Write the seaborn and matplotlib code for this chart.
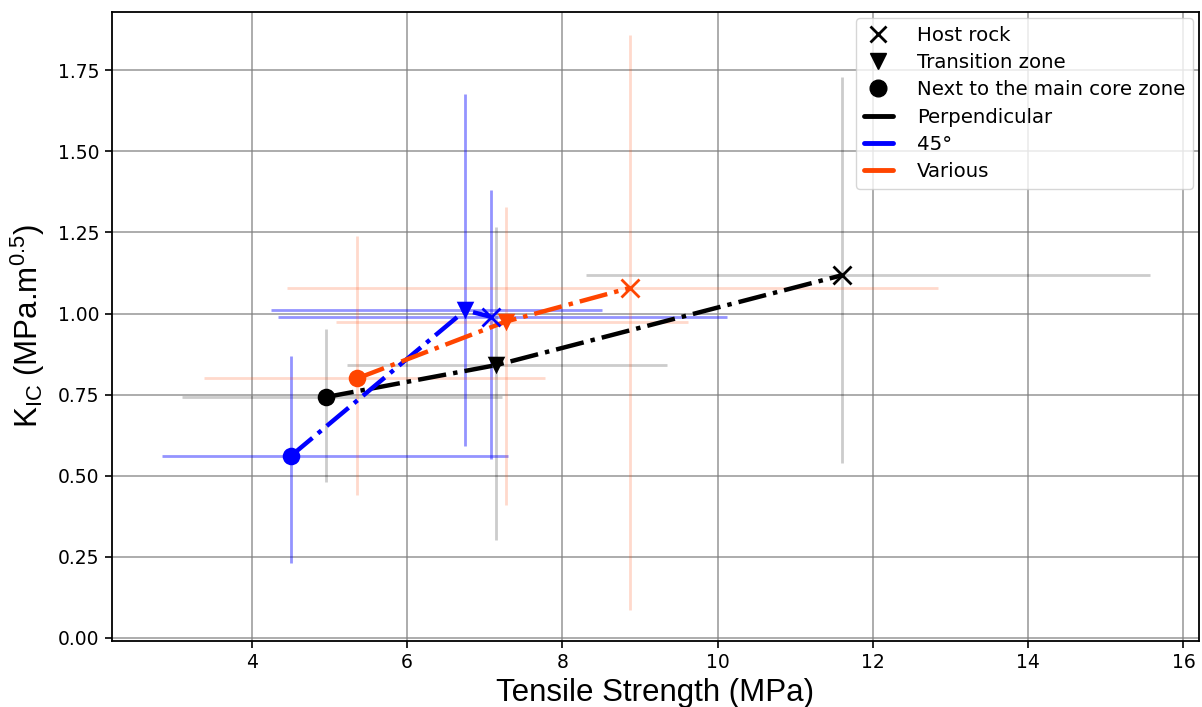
import numpy as np
import pandas as pd
import matplotlib
matplotlib.use("Agg")
import matplotlib.pyplot as plt
from matplotlib.lines import Line2D
import seaborn as sns

# Zones along each profile: next to the main core zone, transition zone, host rock
zones = ["Next to the main core zone", "Transition zone", "Host rock"]
zone_markers = ["o", "v", "x"]

# Perpendicular profile
perp_ts = [4.95, 7.15, 11.60]
perp_kic = [0.742, 0.841, 1.118]
perp_ts_min = [3.10, 5.22, 8.31]
perp_ts_max = [7.22, 9.35, 15.57]
perp_kic_min = [0.481, 0.302, 0.540]
perp_kic_max = [0.951, 1.267, 1.729]

# 45° profile
d45_ts = [4.50, 6.75, 7.08]
d45_kic = [0.560, 1.010, 0.990]
d45_ts_min = [2.84, 4.25, 4.34]
d45_ts_max = [7.30, 8.51, 10.12]
d45_kic_min = [0.231, 0.590, 0.551]
d45_kic_max = [0.869, 1.678, 1.380]

# Various orientations
var_ts = [5.36, 7.27, 8.87]
var_kic = [0.800, 0.975, 1.079]
var_ts_min = [3.39, 5.08, 4.45]
var_ts_max = [7.78, 9.62, 12.84]
var_kic_min = [0.440, 0.410, 0.086]
var_kic_max = [1.238, 1.329, 1.859]

profiles = ["Perpendicular", "45°", "Various"]
colors = ["black", "#0000ff", "#ff4500"]
err_alpha = [0.2, 0.42, 0.2]

series = [
    (perp_ts, perp_kic, perp_ts_min, perp_ts_max, perp_kic_min, perp_kic_max),
    (d45_ts, d45_kic, d45_ts_min, d45_ts_max, d45_kic_min, d45_kic_max),
    (var_ts, var_kic, var_ts_min, var_ts_max, var_kic_min, var_kic_max),
]

sns.set_theme(style="whitegrid")
plt.rcParams["font.family"] = ["DejaVu Sans"]
plt.rcParams["mathtext.default"] = "regular"
plt.rcParams["text.color"] = "black"
plt.rcParams["axes.labelcolor"] = "black"
plt.rcParams["xtick.color"] = "black"
plt.rcParams["ytick.color"] = "black"

fig = plt.figure(figsize=(12.02, 7.07), dpi=100)
ax = fig.add_axes([0.0932, 0.0934, 0.9043, 0.8896])
ax.set_facecolor("white")

for (ts, kic, tmin, tmax, kmin, kmax), name, col, ea in zip(series, profiles, colors, err_alpha):
    ts = np.asarray(ts)
    kic = np.asarray(kic)
    xerr = np.vstack([ts - np.asarray(tmin), np.asarray(tmax) - ts])
    yerr = np.vstack([kic - np.asarray(kmin), np.asarray(kmax) - kic])
    ax.errorbar(ts, kic, xerr=xerr, yerr=yerr, fmt="none", ecolor=col,
                alpha=ea, elinewidth=2, capsize=0, zorder=2)
    df = pd.DataFrame({"ts": ts, "kic": kic, "zone": zones})
    sns.lineplot(data=df, x="ts", y="kic", sort=False, color=col,
                 linestyle="-.", linewidth=3.2, ax=ax, zorder=3, legend=False)
    for (_, row), mk in zip(df.iterrows(), zone_markers):
        if mk == "x":
            ax.plot(row.ts, row.kic, marker="x", color=col, markersize=13,
                    markeredgewidth=2, linestyle="none", zorder=4)
        else:
            sns.scatterplot(x=[row.ts], y=[row.kic], marker=mk, color=col,
                            s=160, edgecolor=col, linewidth=0, ax=ax,
                            zorder=4, legend=False)

ax.set_xlim(2.2, 16.2)
ax.set_ylim(-0.01, 1.93)
ax.set_xticks([4, 6, 8, 10, 12, 14, 16])
ax.set_yticks(np.arange(0, 1.76, 0.25))
ax.yaxis.set_major_formatter(matplotlib.ticker.FormatStrFormatter("%.2f"))
ax.tick_params(axis="both", labelsize=13.5, length=5, width=1.2,
               color="black", labelcolor="black", bottom=True, left=True, pad=4)
ax.grid(True, color="grey", alpha=0.7, linewidth=1.3)
for sp in ax.spines.values():
    sp.set_visible(True)
    sp.set_color("black")
    sp.set_linewidth(1.3)

ax.set_xlabel("Tensile Strength (MPa)", fontsize=22.5, family="Liberation Sans",
              color="black", labelpad=4)
ax.set_ylabel("K$_{IC}$ (MPa.m$^{0.5}$)", fontsize=22.5, family="Liberation Sans",
              color="black", labelpad=8)

handles = [
    Line2D([], [], marker="x", color="black", linestyle="none", markersize=12, markeredgewidth=2),
    Line2D([], [], marker="v", color="black", linestyle="none", markersize=12),
    Line2D([], [], marker="o", color="black", linestyle="none", markersize=12),
    Line2D([], [], color=colors[0], linewidth=3.5),
    Line2D([], [], color=colors[1], linewidth=3.5),
    Line2D([], [], color=colors[2], linewidth=3.5),
]
labels = ["Host rock", "Transition zone", "Next to the main core zone"] + profiles
leg = ax.legend(handles, labels, loc="upper right", fontsize=14.2, frameon=True,
                framealpha=0.8, edgecolor="#cccccc", borderaxespad=0.3,
                labelspacing=0.42, handlelength=1.5, handletextpad=1.2,
                borderpad=0.4)
for t in leg.get_texts():
    t.set_color("black")

fig.savefig("out.png", dpi=100)
